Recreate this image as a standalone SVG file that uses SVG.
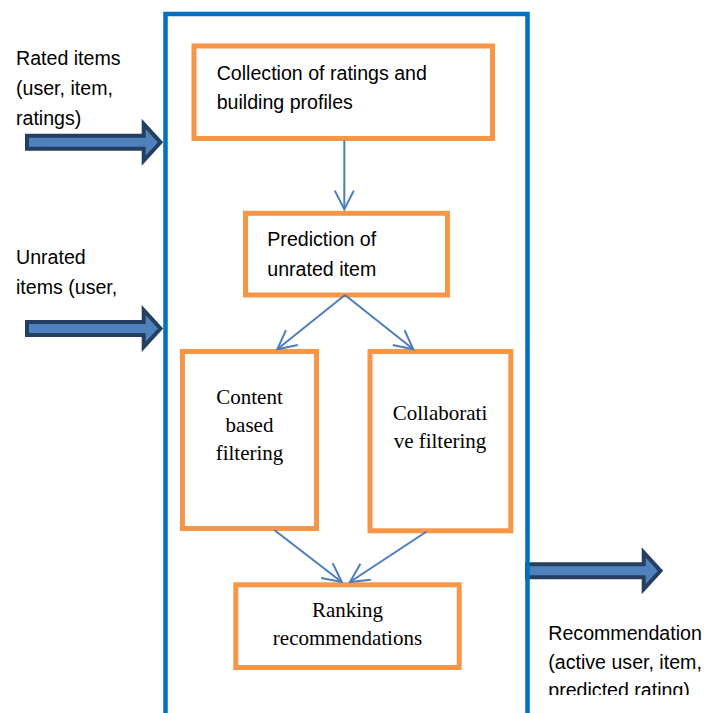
<svg xmlns="http://www.w3.org/2000/svg" width="704" height="713" viewBox="0 0 704 713">
  <style>
    .frame { fill: none; stroke: #0070C0; stroke-width: 4.5; }
    .box { fill: #FFFFFF; stroke: #F79646; stroke-width: 5; }
    .flow { fill: none; stroke: #4A7EBB; stroke-width: 2; marker-end: url(#head); }
    .block { fill: #4F81BD; stroke: #243F60; stroke-width: 4; stroke-linejoin: miter; }
    .sans { font-family: "Liberation Sans", Arial, sans-serif; font-size: 19.6px; fill: #000000; }
    .serif { font-family: "Liberation Serif", "Times New Roman", serif; font-size: 21px; fill: #000000; text-anchor: middle; }
  </style>
  <defs>
    <marker id="head" markerUnits="userSpaceOnUse" markerWidth="24" markerHeight="24" viewBox="-22 -12 24 24" refX="0" refY="0" orient="auto">
      <path d="M-18.7,-9.5 L0,0 L-18.7,9.5" fill="none" stroke="#4A7EBB" stroke-width="2"/>
    </marker>
    <path id="block-arrow" d="M2,-6.5 H118.7 V-18.3 L135.5,0 L118.7,18.3 V6.5 H2 Z"/>
    <clipPath id="page-cut">
      <rect x="0" y="0" width="704" height="695"/>
    </clipPath>
  </defs>

  <!-- Input / output block arrows -->
  <g id="input-arrows">
    <use href="#block-arrow" class="block" transform="translate(25,142.3)"/>
    <use href="#block-arrow" class="block" transform="translate(25,328.5)"/>
  </g>
  <g id="output-arrow">
    <use href="#block-arrow" class="block" transform="translate(525,570.8)"/>
  </g>

  <!-- System boundary -->
  <path id="system-frame" class="frame" d="M165.5,720 V14 H527.5 V720"/>

  <!-- Side labels -->
  <g id="rated-items-label" class="sans">
    <text x="16" y="65">Rated items</text>
    <text x="16" y="95">(user, item,</text>
    <text x="16" y="125">ratings)</text>
  </g>
  <g id="unrated-items-label" class="sans">
    <text x="16" y="263.5">Unrated</text>
    <text x="16" y="293.5">items (user,</text>
  </g>
  <g id="recommendation-label" class="sans" clip-path="url(#page-cut)">
    <text x="548.3" y="640">Recommendation</text>
    <text x="548.3" y="668.5">(active user, item,</text>
    <text x="548.3" y="697">predicted rating)</text>
  </g>

  <!-- Process nodes -->
  <g id="collection">
    <rect class="box" x="194" y="46" width="298.5" height="92.5"/>
    <text class="sans" x="216.7" y="79.5">Collection of ratings and</text>
    <text class="sans" x="216.7" y="108.5">building profiles</text>
  </g>
  <g id="prediction">
    <rect class="box" x="245.5" y="213.3" width="202" height="81.7"/>
    <text class="sans" x="267.3" y="246">Prediction of</text>
    <text class="sans" x="267.3" y="276">unrated item</text>
  </g>
  <g id="content-based">
    <rect class="box" x="182.5" y="351.5" width="134" height="177"/>
    <text class="serif" x="249.5" y="404">Content</text>
    <text class="serif" x="249.5" y="432">based</text>
    <text class="serif" x="249.5" y="460">filtering</text>
  </g>
  <g id="collaborative">
    <rect class="box" x="370" y="351.5" width="140.8" height="179.3"/>
    <text class="serif" x="440" y="419.5">Collaborati</text>
    <text class="serif" x="440" y="447.5">ve filtering</text>
  </g>
  <g id="ranking">
    <rect class="box" x="235.8" y="584.8" width="223.4" height="82.7"/>
    <text class="serif" x="347.5" y="617">Ranking</text>
    <text class="serif" x="347.5" y="644.5">recommendations</text>
  </g>

  <!-- Connectors -->
  <g id="connectors">
    <line class="flow" x1="344.3" y1="140.5" x2="344.3" y2="209.3"/>
    <line class="flow" x1="345" y1="295" x2="277.3" y2="349.3"/>
    <line class="flow" x1="345" y1="295" x2="413.3" y2="349.3"/>
    <line class="flow" x1="274.3" y1="530" x2="341.7" y2="582"/>
    <line class="flow" x1="426.7" y1="531.5" x2="350" y2="582"/>
  </g>
</svg>
